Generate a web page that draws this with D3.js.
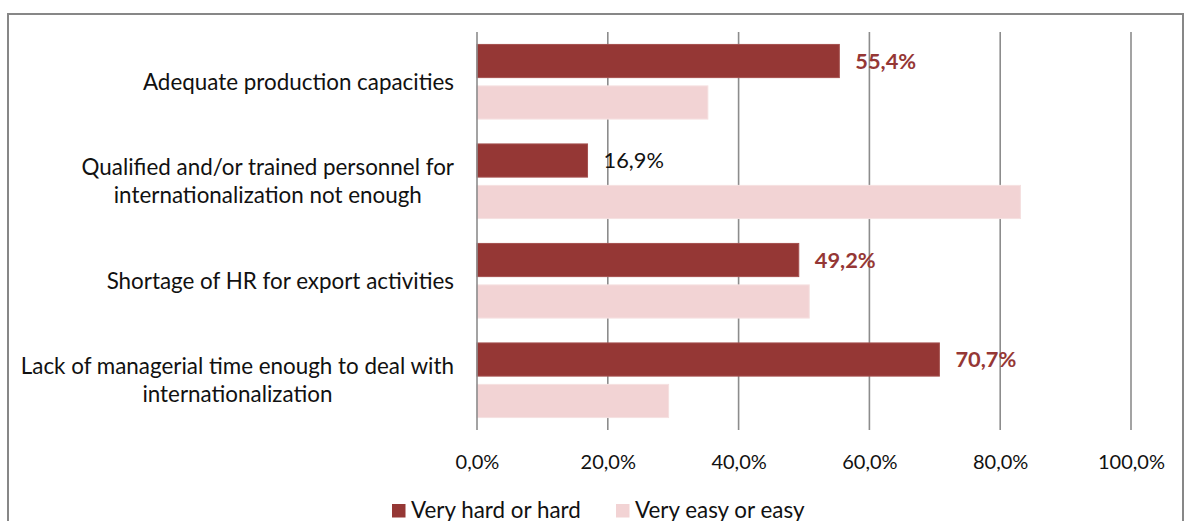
<!DOCTYPE html>
<html>
<head>
<meta charset="utf-8">
<script src="https://cdn.jsdelivr.net/npm/d3@7"></script>
<style>
  html, body { margin: 0; padding: 0; background: #fff; }
  svg { display: block; }
  text { font-family: Lato, "Open Sans", sans-serif; }
</style>
</head>
<body>
<svg id="chart" width="1187" height="521"></svg>
<script>
// Obstacles to internationalization: share of answers per difficulty rating
const categories = [
  ["Adequate production capacities"],
  ["Qualified and/or trained personnel for", "internationalization not enough"],
  ["Shortage of HR for export activities"],
  ["Lack of managerial time enough to deal with", "internationalization"]
];
const seriesNames = ["Very hard or hard", "Very easy or easy"];
const hardValues = [55.4, 16.9, 49.2, 70.7];
const easyValues = [35.3, 83.1, 50.8, 29.3];
const tickValues = [0, 20, 40, 60, 80, 100];
// which hard-value labels are set in bold red
const boldLabel = [true, false, true, true];

const colors = ["#953735", "#f2d3d4"];
const strokes = ["#a4504e", "#f5e0e0"];
const gridColor = "#8c8c8c";
const textSize = 22.4;

const svg = d3.select("#chart");

// outer frame (runs past the bottom edge)
svg.append("rect")
  .attr("x", 8).attr("y", 14)
  .attr("width", 1175).attr("height", 600)
  .attr("fill", "#fff")
  .attr("stroke", "#878787").attr("stroke-width", 2);

const plot = { left: 477, right: 1131, top: 32, bottom: 430 };

const x = d3.scaleLinear().domain([0, 100]).range([plot.left, plot.right]);
const y = d3.scaleBand().domain(d3.range(categories.length))
  .range([plot.top, plot.bottom]).paddingInner(0).paddingOuter(0);
const bw = y.bandwidth();
const inner = d3.scaleBand().domain(seriesNames)
  .range([bw * 0.125, bw * 0.875]).paddingInner(0.2).paddingOuter(0);

// vertical gridlines
svg.append("g").selectAll("line")
  .data(tickValues.slice(1))
  .join("line")
  .attr("x1", d => x(d)).attr("x2", d => x(d))
  .attr("y1", plot.top).attr("y2", plot.bottom)
  .attr("stroke", gridColor).attr("stroke-width", 1.6);

// bottom tick labels
const xAxis = d3.axisBottom(x).tickValues(tickValues).tickSize(0)
  .tickFormat(d => d3.format(".1f")(d).replace(".", ",") + "%");
const gx = svg.append("g")
  .attr("transform", `translate(0,${plot.bottom})`)
  .call(xAxis);
gx.select(".domain").remove();
gx.selectAll("text")
  .attr("y", 39).attr("dy", 0)
  .attr("font-family", "Lato, sans-serif")
  .attr("font-size", 20).attr("fill", "#111");

// bars
const data = categories.map((c, i) => ({ i, values: [hardValues[i], easyValues[i]] }));
const groups = svg.append("g").selectAll("g")
  .data(data).join("g")
  .attr("transform", d => `translate(0,${y(d.i)})`);

groups.selectAll("rect")
  .data(d => d.values.map((v, s) => ({ v, s })))
  .join("rect")
  .attr("x", x(0))
  .attr("y", d => inner(seriesNames[d.s]))
  .attr("width", d => x(d.v) - x(0))
  .attr("height", inner.bandwidth())
  .attr("fill", d => colors[d.s])
  .attr("stroke", d => strokes[d.s]).attr("stroke-width", 1);

// value labels on the "very hard or hard" bars
groups.append("text")
  .attr("x", d => x(d.values[0]) + 16)
  .attr("y", d => inner(seriesNames[0]) + inner.bandwidth() / 2)
  .attr("dy", "0.35em")
  .attr("font-size", 21.8)
  .attr("font-weight", d => boldLabel[d.i] ? "bold" : "normal")
  .attr("fill", d => boldLabel[d.i] ? colors[0] : "#111")
  .text(d => d.values[0].toFixed(1).replace(".", ",") + "%");

// left axis line
svg.append("line")
  .attr("x1", plot.left).attr("x2", plot.left)
  .attr("y1", plot.top).attr("y2", plot.bottom)
  .attr("stroke", gridColor).attr("stroke-width", 1.6);

// category labels: lines centred, block right-aligned to the axis
const lineH = 28.3;
categories.forEach((lines, i) => {
  const cy = y(i) + bw / 2;
  const g = svg.append("g");
  const texts = lines.map((t, k) => g.append("text")
    .attr("y", cy + (k - (lines.length - 1) / 2) * lineH)
    .attr("dy", "0.35em")
    .attr("font-size", textSize).attr("fill", "#111")
    .attr("text-anchor", "middle")
    .text(t));
  const widest = d3.max(texts, t => t.node().getComputedTextLength());
  const cx = 454 - widest / 2;
  texts.forEach(t => t.attr("x", cx));
});

// legend
const legend = svg.append("g");
const legendItems = [
  { name: seriesNames[0], x: 392 },
  { name: seriesNames[1], x: 616 }
];
legendItems.forEach((it, s) => {
  legend.append("rect")
    .attr("x", it.x).attr("y", 504)
    .attr("width", 13.5).attr("height", 13.5)
    .attr("fill", colors[s]);
  legend.append("text")
    .attr("x", it.x + 19).attr("y", 518)
    .attr("font-size", textSize).attr("fill", "#111")
    .text(it.name);
});
</script>
</body>
</html>
